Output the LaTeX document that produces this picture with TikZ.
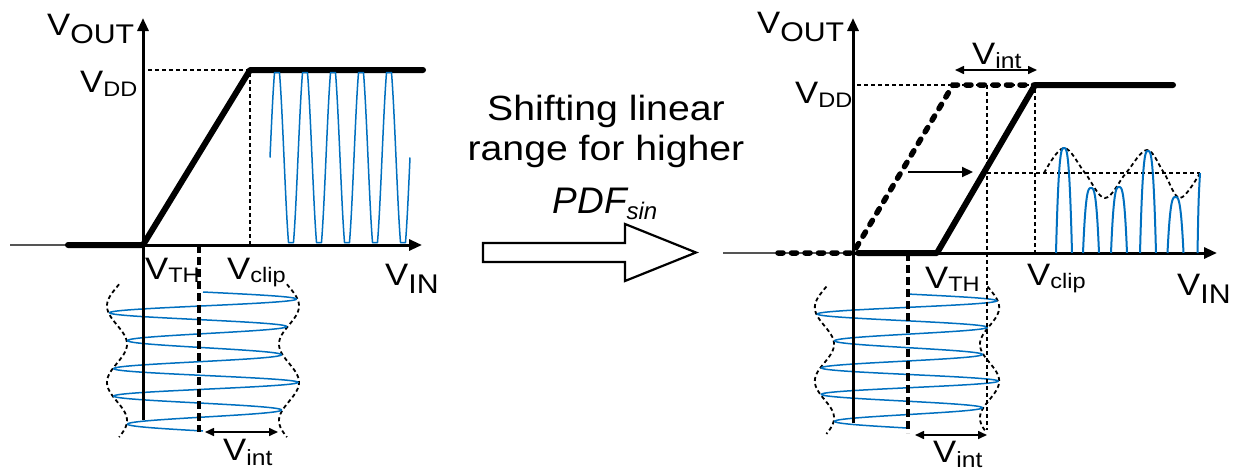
\documentclass[tikz,border=0pt]{standalone}
\usepackage{fontspec}
\setmainfont{Liberation Sans}[FakeStretch=1.12]
\newfontfamily\pdffont{Liberation Sans}
\usetikzlibrary{arrows.meta}
\definecolor{wave}{RGB}{0,112,192}
\definecolor{axgray}{RGB}{85,85,85}
\newcommand{\Vlab}[3]{{\fontsize{31}{31}\selectfont V}\raisebox{-#3pt}{\fontsize{#2}{#2}\selectfont #1}}
\newcommand{\hump}[2]{\draw[humpwave] plot[domain=-1:1, samples=41, smooth, variable=\s] ({#1+8*\s}, {253-(253-#2)*(1-abs(\s)^3)});}
\tikzset{
 lbl/.style={inner sep=0pt, anchor=base west},
 axis/.style={line width=3pt, -{Triangle[length=13pt,width=11pt]}},
 grayline/.style={line width=2.2pt, draw=axgray},
 transfer/.style={line width=6pt, line cap=round, line join=round},
 olddash/.style={line width=5.5pt, line cap=round, dash pattern=on 5pt off 8.5pt},
 thickdash/.style={line width=4.5pt, dash pattern=on 8pt off 4pt},
 thindash/.style={line width=2.3pt, dash pattern=on 4pt off 3pt},
 envdash/.style={line width=1.8pt, dash pattern=on 4pt off 3pt},
 bluewave/.style={draw=wave, line width=1.5pt},
 humpwave/.style={draw=wave, line width=2pt},
 dimarrow/.style={line width=1.6pt, {Triangle[length=9pt,width=8pt]}-{Triangle[length=9pt,width=8pt]}},
 shiftarrow/.style={line width=2.2pt, -{Triangle[length=11pt,width=10pt]}},
 bigarrow/.style={draw=black, line width=2.2pt, fill=white, line join=miter},
}
\begin{document}
\begin{tikzpicture}[x=1pt, y=-1pt]
\useasboundingbox (0,0) rectangle (1240,472);
\fill[white] (0,0) rectangle (1240,472);

% ================= LEFT PLOT =================
\coordinate (Lgs) at (10,245);
\coordinate (Lth0) at (68,245);
\coordinate (LO) at (143,245);
\coordinate (Lybot) at (143,420);
\coordinate (Lytop) at (143,18);
\coordinate (Lxend) at (422,245);
\coordinate (Lsat) at (250,70);
\coordinate (Lsatend) at (423,70);
\coordinate (Lvddl) at (148,70);
\coordinate (Lclipax) at (250,245);
\coordinate (Lvt) at (199,245);
\coordinate (Lvtb) at (199,432);
\coordinate (La1) at (205,432);
\coordinate (La2) at (278,432);

% input spiral and envelopes
\draw[envdash] plot[domain=-100:1880, samples=160, smooth, variable=\t] ({203+(86+10*cos((\t-180)/2.75))}, {292+\t/360*27.8});
\draw[envdash] plot[domain=-100:1880, samples=160, smooth, variable=\t] ({203-(86+10*cos((\t-180)/2.75))}, {292+\t/360*27.8});
\draw[bluewave] plot[domain=0:1800, samples=361, smooth, variable=\t] ({203+(85+10*cos((\t-180)/2.75))*sin(\t)}, {292+\t/360*27.8});

\draw[grayline] (Lgs) -- (Lth0);
\draw[axis] (Lybot) -- (Lytop);
\draw[axis] (LO) -- (Lxend);
\draw[thindash] (Lvddl) -- (Lsat) -- (Lclipax);
\draw[thickdash] (Lvt) -- (Lvtb);
\draw[transfer] (Lth0) -- (LO) -- (Lsat) -- (Lsatend);
\draw[bluewave] plot[domain=270:410, samples=561, variable=\x] (\x, {157.5 - max(-85, min(85, 100*sin((\x-270)/28*360)))});
\draw[dimarrow] (La1) -- (La2);

\node[lbl] (Lvout) at (47,35) {\Vlab{OUT}{27}{8}};
\node[lbl] (Lvdd) at (80,92) {\Vlab{DD}{21}{4}};
\node[lbl] (Lvth) at (145,279) {\Vlab{TH}{21}{3}};
\node[lbl] (Lvclip) at (227,279) {\Vlab{clip}{21}{3}};
\node[lbl] (Lvin) at (385,285) {\Vlab{IN}{27}{8}};
\node[lbl] (Lvint) at (223,460) {\Vlab{int}{22}{5}};

% ================= MIDDLE =================
\node[anchor=base, inner sep=0pt] (t1) at (606,120) {\fontsize{35}{35}\selectfont Shifting linear};
\node[anchor=base, inner sep=0pt] (t2) at (606,160) {\fontsize{35}{35}\selectfont range for higher};
\node[anchor=base, inner sep=0pt] (t3) at (605,213) {\pdffont\fontsize{37}{37}\selectfont\itshape PDF\raisebox{-6pt}{\fontsize{24}{24}\selectfont sin}};
\draw[bigarrow] (483,243) -- (625,243) -- (625,224) -- (696,252.5) -- (625,281) -- (625,262) -- (483,262) -- cycle;

% ================= RIGHT PLOT =================
\coordinate (Rgs) at (723,253);
\coordinate (Rd0) at (778,253);
\coordinate (RO) at (853,253);
\coordinate (Rybot) at (853,423);
\coordinate (Rytop) at (853,18);
\coordinate (Rxend) at (1217,253);
\coordinate (Rosat) at (953,85);
\coordinate (Rsat) at (1035,85);
\coordinate (Rsatend) at (1173,85);
\coordinate (Rn0) at (858,253);
\coordinate (Rth) at (937,253);
\coordinate (Rvddl) at (857,85);
\coordinate (Rclipax) at (1035,253);
\coordinate (Rvi) at (987,85);
\coordinate (Rvib) at (987,430);
\coordinate (Rmid) at (987,173);
\coordinate (Rmidend) at (1200,173);
\coordinate (Rvt) at (908,253);
\coordinate (Rvtb) at (908,433);
\coordinate (Rs1) at (908,172);
\coordinate (Rs2) at (973,172);
\coordinate (Rt1) at (955,70);
\coordinate (Rt2) at (1037,70);
\coordinate (Rb1) at (915,435);
\coordinate (Rb2) at (987,435);

\draw[envdash] plot[domain=-100:1860, samples=160, smooth, variable=\t] ({907+0.96*(86+10*cos((\t-180)/2.75))}, {294+\t/360*26.8});
\draw[envdash] plot[domain=-100:1880, samples=160, smooth, variable=\t] ({907-0.96*(86+10*cos((\t-180)/2.75))}, {294+\t/360*26.8});
\draw[bluewave] plot[domain=0:1800, samples=361, smooth, variable=\t] ({907+0.96*(85+10*cos((\t-180)/2.75))*sin(\t)}, {294+\t/360*26.8});

\draw[grayline] (Rgs) -- (RO);
\draw[axis] (Rybot) -- (Rytop);
\draw[axis] (RO) -- (Rxend);
\draw[thindash] (Rvddl) -- (Rsat) -- (Rclipax);
\draw[thindash] (Rvi) -- (Rvib);
\draw[thindash] (Rmid) -- (Rmidend);
\draw[thickdash] (Rvt) -- (Rvtb);
\draw[olddash] (Rd0) -- (RO) -- (Rosat) -- (Rsat);
\draw[transfer] (Rn0) -- (Rth) -- (Rsat) -- (Rsatend);
\draw[shiftarrow] (Rs1) -- (Rs2);
\draw[dimarrow] (Rt1) -- (Rt2);
\draw[dimarrow] (Rb1) -- (Rb2);

% output humps and envelope
\draw[envdash] plot[smooth, tension=0.6] coordinates {(1044,173) (1064,148) (1085,173) (1105,198) (1126,173) (1147,150) (1164,173) (1180,198) (1200,173)};
\hump{1064}{148}
\hump{1091}{188}
\hump{1119}{187}
\hump{1148}{151}
\hump{1175.5}{197}
\draw[humpwave] (1197.5,253) .. controls (1198.5,200) .. (1200,173);

\node[lbl] (Rvout) at (757,33) {\Vlab{OUT}{27}{8}};
\node[lbl] (Rvdd) at (795,103) {\Vlab{DD}{21}{4}};
\node[lbl] (Rvintt) at (972,64) {\Vlab{int}{22}{4}};
\node[lbl] (Rvth) at (925,288) {\Vlab{TH}{21}{3}};
\node[lbl] (Rvclip) at (1027,285) {\Vlab{clip}{21}{3}};
\node[lbl] (Rvin) at (1177,295) {\Vlab{IN}{27}{8}};
\node[lbl] (Rvintb) at (933,462) {\Vlab{int}{22}{5}};
\end{tikzpicture}
\end{document}
